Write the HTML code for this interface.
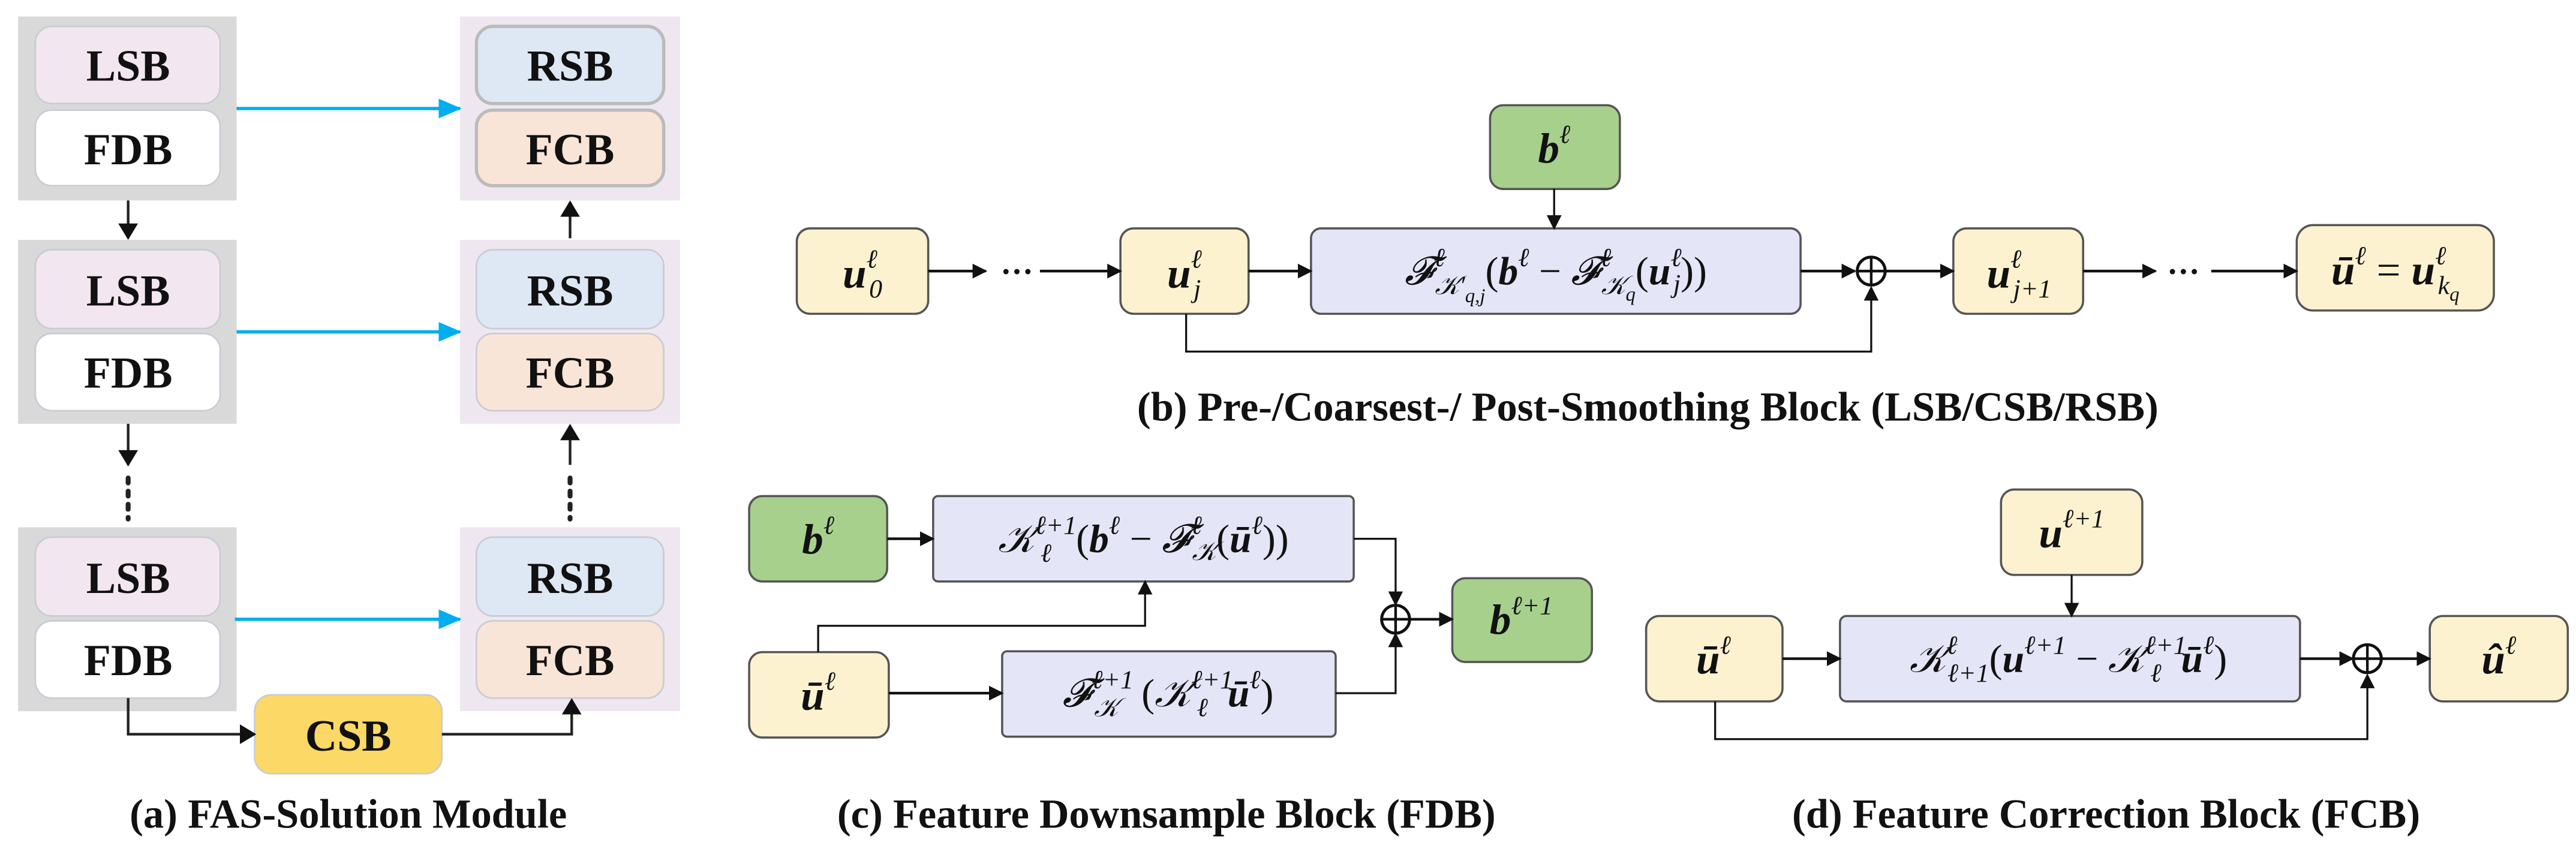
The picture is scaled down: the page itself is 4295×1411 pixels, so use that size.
<!DOCTYPE html>
<html><head><meta charset="utf-8"><style>
html,body{margin:0;padding:0;background:#fff;width:4295px;height:1411px;overflow:hidden}
svg{display:block}
.lab{font-family:"Liberation Serif",serif;font-weight:bold;font-size:27px;text-anchor:middle;fill:#111}
.cap{font-family:"Liberation Serif",serif;font-weight:bold;font-size:25px;text-anchor:middle;fill:#111}
.m{font-family:"Liberation Serif",serif;font-style:italic;font-size:26px;text-anchor:middle;fill:#111}
.b{font-weight:bold}
.s{font-size:16px}
.ss{font-size:12px}
</style></head><body>
<svg width="4295" height="1411" viewBox="0 0 1568 515" xmlns="http://www.w3.org/2000/svg">
<defs>
<marker id="ak" markerWidth="9" markerHeight="9" refX="8" refY="4.5" orient="auto" markerUnits="userSpaceOnUse"><path d="M0,0 L9,4.5 L0,9 Z" fill="#111"/></marker>
<marker id="ab" markerWidth="14" markerHeight="12" refX="13" refY="6" orient="auto" markerUnits="userSpaceOnUse"><path d="M0,0 L14,6 L0,12 Z" fill="#00aeef"/></marker>
<marker id="akb" markerWidth="10" markerHeight="12" refX="9" refY="6" orient="auto" markerUnits="userSpaceOnUse"><path d="M0,0 L10,6 L0,12 Z" fill="#111"/></marker>
</defs>
<!-- Panel a -->
<g>
<rect x="11" y="10" width="133" height="112" fill="#d9d9d9"/>
<rect x="11" y="146" width="133" height="112" fill="#d9d9d9"/>
<rect x="11" y="321" width="133" height="112" fill="#d9d9d9"/>
<rect x="280" y="10" width="134" height="112" fill="#efe7f0"/>
<rect x="280" y="146" width="134" height="112" fill="#efe7f0"/>
<rect x="280" y="321" width="134" height="112" fill="#efe7f0"/>
<g stroke="#c8ccd4" stroke-width="1">
<rect x="21.5" y="16" width="112.5" height="47" rx="10" fill="#f2e6f0"/>
<rect x="21.5" y="67" width="112.5" height="46" rx="10" fill="#fff"/>
<rect x="21.5" y="152" width="112.5" height="48" rx="10" fill="#f2e6f0"/>
<rect x="21.5" y="203" width="112.5" height="47" rx="10" fill="#fff"/>
<rect x="21.5" y="327" width="112.5" height="48" rx="10" fill="#f2e6f0"/>
<rect x="21.5" y="378" width="112.5" height="47" rx="10" fill="#fff"/>
<rect x="290" y="16" width="114" height="47" rx="10" fill="#dde8f4" stroke="#bbb" stroke-width="2"/>
<rect x="290" y="67" width="114" height="46" rx="10" fill="#f9e5d7" stroke="#bbb" stroke-width="2"/>
<rect x="290" y="152" width="114" height="48" rx="10" fill="#dde8f4"/>
<rect x="290" y="203" width="114" height="47" rx="10" fill="#f9e5d7"/>
<rect x="290" y="327" width="114" height="48" rx="10" fill="#dde8f4"/>
<rect x="290" y="378" width="114" height="47" rx="10" fill="#f9e5d7"/>
<rect x="155" y="423" width="114" height="48" rx="10" fill="#fcd866"/>
</g>
<text class="lab" x="78" y="49">LSB</text><text class="lab" x="78" y="100">FDB</text>
<text class="lab" x="78" y="186">LSB</text><text class="lab" x="78" y="236">FDB</text>
<text class="lab" x="78" y="361">LSB</text><text class="lab" x="78" y="411">FDB</text>
<text class="lab" x="347" y="49">RSB</text><text class="lab" x="347" y="100">FCB</text>
<text class="lab" x="347" y="186">RSB</text><text class="lab" x="347" y="236">FCB</text>
<text class="lab" x="347" y="361">RSB</text><text class="lab" x="347" y="411">FCB</text>
<text class="lab" x="212" y="457">CSB</text>
<g stroke="#00aeef" stroke-width="2"><line x1="144" y1="66" x2="280" y2="66" marker-end="url(#ab)"/><line x1="144" y1="202" x2="280" y2="202" marker-end="url(#ab)"/><line x1="143" y1="377" x2="280" y2="377" marker-end="url(#ab)"/></g>
<g stroke="#222" stroke-width="1.6" fill="none">
<line x1="78" y1="122" x2="78" y2="145" marker-end="url(#akb)"/>
<line x1="78" y1="258" x2="78" y2="283" marker-end="url(#akb)"/>
<line x1="78" y1="291" x2="78" y2="316" stroke-dasharray="3,5" stroke-width="3" stroke-linecap="round"/>
<line x1="347" y1="145" x2="347" y2="123" marker-end="url(#akb)"/>
<line x1="347" y1="283" x2="347" y2="259" marker-end="url(#akb)"/>
<line x1="347" y1="291" x2="347" y2="316" stroke-dasharray="3,5" stroke-width="3" stroke-linecap="round"/>
<polyline points="78,425 78,447 155,447" marker-end="url(#akb)"/>
<polyline points="269,447 348,447 348,426" marker-end="url(#akb)"/>
</g>
<text class="cap" x="212" y="504">(a) FAS-Solution Module</text>
</g>
<!-- Panel b -->
<g stroke="#555" stroke-width="1.3">
<rect x="485" y="139" width="80" height="52" rx="8" fill="#fdf2cf"/>
<rect x="682" y="139" width="78" height="52" rx="8" fill="#fdf2cf"/>
<rect x="798" y="139" width="298" height="52" rx="6" fill="#e5e5f8"/>
<rect x="907" y="64" width="79" height="51" rx="8" fill="#a8d08d"/>
<rect x="1189" y="139" width="79" height="52" rx="8" fill="#fdf2cf"/>
<rect x="1398" y="137" width="120" height="52" rx="10" fill="#fdf2cf"/>
</g>
<g stroke="#111" stroke-width="1.6" fill="none">
<line x1="565" y1="165" x2="600" y2="165" marker-end="url(#ak)"/>
<line x1="633" y1="165" x2="682" y2="165" marker-end="url(#ak)"/>
<line x1="760" y1="165" x2="798" y2="165" marker-end="url(#ak)"/>
<line x1="946" y1="115" x2="946" y2="139" stroke-width="1.2" marker-end="url(#ak)"/>
<line x1="1096" y1="165" x2="1129" y2="165" marker-end="url(#ak)"/>
<line x1="1148" y1="165" x2="1189" y2="165" marker-end="url(#ak)"/>
<line x1="1268" y1="165" x2="1312" y2="165" marker-end="url(#ak)"/>
<line x1="1346" y1="165" x2="1398" y2="165" marker-end="url(#ak)"/>
<polyline points="722,191 722,214 1139,214 1139,175" stroke-width="1.2" marker-end="url(#ak)"/>
<circle cx="1139" cy="165" r="8.5" stroke-width="1.8"/>
<line x1="1130.5" y1="165" x2="1147.5" y2="165"/><line x1="1139" y1="156.5" x2="1139" y2="173.5"/>
</g>
<text class="m" x="619" y="172" style="font-style:normal;font-weight:bold;font-size:20px">···</text>
<text class="m" x="1329" y="172" style="font-style:normal;font-weight:bold;font-size:20px">···</text>
<text class="m" x="525" y="175"><tspan class="b">u</tspan><tspan class="s" dy="-12">ℓ</tspan><tspan class="s" dx="-5" dy="18">0</tspan></text>
<text class="m" x="721" y="175"><tspan class="b">u</tspan><tspan class="s" dy="-12">ℓ</tspan><tspan class="s" dx="-5" dy="18">j</tspan></text>
<text class="m" x="946" y="99"><tspan class="b">b</tspan><tspan class="s" dy="-12">ℓ</tspan></text>
<text class="m" x="947" y="173" style="font-size:24px">𝓕<tspan class="s" dy="-11">ℓ</tspan><tspan class="s" dx="-6" dy="17">𝒦′</tspan><tspan class="ss" dy="5">q,j</tspan><tspan dy="-11" style="font-style:normal">(</tspan><tspan class="b">b</tspan><tspan class="s" dy="-11">ℓ</tspan><tspan dy="11" style="font-style:normal"> − </tspan>𝓕<tspan class="s" dy="-11">ℓ</tspan><tspan class="s" dx="-6" dy="17">𝒦</tspan><tspan class="ss" dy="4">q</tspan><tspan dy="-10" style="font-style:normal">(</tspan><tspan class="b">u</tspan><tspan class="s" dy="-11">ℓ</tspan><tspan class="s" dx="-5" dy="16">j</tspan><tspan dy="-5" style="font-style:normal">))</tspan></text>
<text class="m" x="1229" y="175"><tspan class="b">u</tspan><tspan class="s" dy="-12">ℓ</tspan><tspan class="s" dx="-5" dy="18">j+1</tspan></text>
<text class="m" x="1458" y="173"><tspan class="b">ū</tspan><tspan class="s" dy="-12">ℓ</tspan><tspan dy="12" style="font-style:normal"> = </tspan><tspan class="b">u</tspan><tspan class="s" dy="-12">ℓ</tspan><tspan class="s" dx="-5" dy="18">k</tspan><tspan class="ss" dy="4">q</tspan></text>
<text class="cap" x="1003" y="256">(b) Pre-/Coarsest-/ Post-Smoothing Block (LSB/CSB/RSB)</text>
<!-- Panel c -->
<g stroke="#555" stroke-width="1.3">
<rect x="456" y="302" width="84" height="52" rx="8" fill="#a8d08d"/>
<rect x="568" y="302" width="256" height="52" rx="3" fill="#e5e5f8"/>
<rect x="456" y="397" width="85" height="52" rx="8" fill="#fdf2cf"/>
<rect x="610" y="396.5" width="203" height="52" rx="3" fill="#e5e5f8"/>
<rect x="884" y="352" width="85" height="51" rx="8" fill="#a8d08d"/>
</g>
<g stroke="#111" stroke-width="1.6" fill="none">
<line x1="540" y1="328" x2="568" y2="328" marker-end="url(#ak)"/>
<polyline points="824,328 849.5,328 849.5,368" stroke-width="1.2" marker-end="url(#ak)"/>
<polyline points="813,422 849.5,422 849.5,386" stroke-width="1.2" marker-end="url(#ak)"/>
<polyline points="498,397 498,381 697,381 697,354" stroke-width="1.2" marker-end="url(#ak)"/>
<line x1="541" y1="422" x2="610" y2="422" marker-end="url(#ak)"/>
<line x1="858" y1="377" x2="884" y2="377" marker-end="url(#ak)"/>
<circle cx="849.5" cy="377" r="8.5" stroke-width="1.8"/>
<line x1="841" y1="377" x2="858" y2="377"/><line x1="849.5" y1="368.5" x2="849.5" y2="385.5"/>
</g>
<text class="m" x="498" y="337"><tspan class="b">b</tspan><tspan class="s" dy="-12">ℓ</tspan></text>
<text class="m" x="696" y="336" style="font-size:24px">𝒦<tspan class="s" dy="-11">ℓ+1</tspan><tspan class="s" dx="-22" dy="17">ℓ</tspan><tspan dx="15" dy="-6" style="font-style:normal">(</tspan><tspan class="b">b</tspan><tspan class="s" dy="-11">ℓ</tspan><tspan dy="11" style="font-style:normal"> − </tspan>𝓕<tspan class="s" dy="-11">ℓ</tspan><tspan class="s" dx="-6" dy="16">𝒦</tspan><tspan dy="-5" style="font-style:normal">(</tspan><tspan class="b">ū</tspan><tspan class="s" dy="-11">ℓ</tspan><tspan dy="11" style="font-style:normal">))</tspan></text>
<text class="m" x="498" y="432"><tspan class="b">ū</tspan><tspan class="s" dy="-12">ℓ</tspan></text>
<text class="m" x="711" y="430" style="font-size:24px">𝓕<tspan class="s" dy="-11">ℓ+1</tspan><tspan class="s" dx="-24" dy="17">𝒦</tspan><tspan dx="14" dy="-6" style="font-style:normal">(</tspan>𝒦<tspan class="s" dy="-11">ℓ+1</tspan><tspan class="s" dx="-22" dy="17">ℓ</tspan><tspan class="b" dx="12" dy="-6">ū</tspan><tspan class="s" dy="-11">ℓ</tspan><tspan dy="11" style="font-style:normal">)</tspan></text>
<text class="m" x="926" y="386"><tspan class="b">b</tspan><tspan class="s" dy="-12">ℓ+1</tspan></text>
<text class="cap" x="710" y="504">(c) Feature Downsample Block (FDB)</text>
<!-- Panel d -->
<g stroke="#555" stroke-width="1.3">
<rect x="1218" y="298" width="86" height="52" rx="8" fill="#fdf2cf"/>
<rect x="1002" y="375" width="83" height="52" rx="8" fill="#fdf2cf"/>
<rect x="1120" y="375" width="280" height="52" rx="4" fill="#e5e5f8"/>
<rect x="1479" y="375" width="84" height="52" rx="8" fill="#fdf2cf"/>
</g>
<g stroke="#111" stroke-width="1.6" fill="none">
<line x1="1261" y1="350" x2="1261" y2="375" stroke-width="1.2" marker-end="url(#ak)"/>
<line x1="1085" y1="401" x2="1120" y2="401" marker-end="url(#ak)"/>
<line x1="1400" y1="401" x2="1432" y2="401" marker-end="url(#ak)"/>
<line x1="1450" y1="401" x2="1479" y2="401" marker-end="url(#ak)"/>
<polyline points="1044,427 1044,450 1441,450 1441,411" stroke-width="1.2" marker-end="url(#ak)"/>
<circle cx="1441" cy="401" r="8.5" stroke-width="1.8"/>
<line x1="1432.5" y1="401" x2="1449.5" y2="401"/><line x1="1441" y1="392.5" x2="1441" y2="409.5"/>
</g>
<text class="m" x="1261" y="333"><tspan class="b">u</tspan><tspan class="s" dy="-12">ℓ+1</tspan></text>
<text class="m" x="1043" y="410"><tspan class="b">ū</tspan><tspan class="s" dy="-12">ℓ</tspan></text>
<text class="m" x="1259" y="409" style="font-size:24px">𝒦<tspan class="s" dy="-11">ℓ</tspan><tspan class="s" dx="-6" dy="17">ℓ+1</tspan><tspan dy="-6" style="font-style:normal">(</tspan><tspan class="b">u</tspan><tspan class="s" dy="-11">ℓ+1</tspan><tspan dy="11" style="font-style:normal"> − </tspan>𝒦<tspan class="s" dy="-11">ℓ+1</tspan><tspan class="s" dx="-22" dy="17">ℓ</tspan><tspan class="b" dx="12" dy="-6">ū</tspan><tspan class="s" dy="-11">ℓ</tspan><tspan dy="11" style="font-style:normal">)</tspan></text>
<text class="m" x="1521" y="410"><tspan class="b">û</tspan><tspan class="s" dy="-12">ℓ</tspan></text>
<text class="cap" x="1282" y="504">(d) Feature Correction Block (FCB)</text>
</svg>
</body></html>
